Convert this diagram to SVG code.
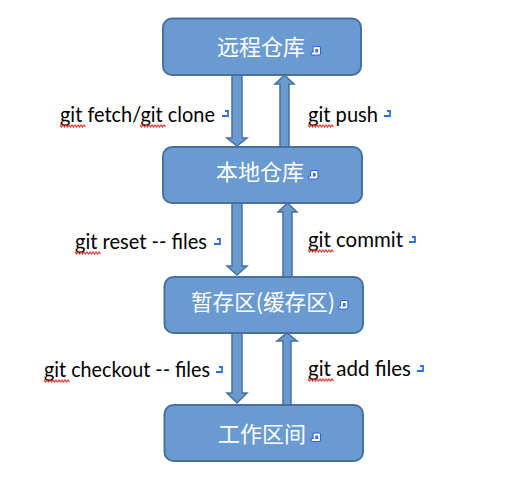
<svg xmlns="http://www.w3.org/2000/svg" width="508" height="478" viewBox="0 0 508 478">
<style>
.box{fill:#6a9bd0;stroke:#47709e;stroke-width:2}
.arr{fill:#6a9bd0;stroke:#47709e;stroke-width:1.5;stroke-linejoin:miter}
.nt{font-family:"Noto Sans CJK SC","Noto Sans",sans-serif;font-size:22px;fill:#ffffff}
.lb{font-family:Lato,"Liberation Sans",sans-serif;font-size:21px;fill:#000000}
.sq{fill:none;stroke:#e0342c;stroke-width:1.2}
.pm{fill:none;stroke:#2f6ee0;stroke-width:1.8}
.bmo{fill:none;stroke:#2f62d8;stroke-width:4;stroke-linejoin:round;stroke-linecap:round}
.bmi{fill:none;stroke:#ffffff;stroke-width:1.8;stroke-linejoin:round;stroke-linecap:round}
</style>
<defs>
<path id="sqg" d="M0,0 l1.5,2 l1.5,-2 l1.5,2 l1.5,-2 l1.5,2 l1.5,-2 l1.5,2 l1.5,-2 l1.5,2 l1.5,-2 l1.5,2 l1.5,-2 l1.5,2 l1.5,-2 l1.5,2 l1.5,-2 l1.5,2"/>
<path id="pmk" d="M3,0 H6 V5 H0"/>
<g id="bmk"><path class="bmo" d="M1.5,7 H8 V1.5 H3.5 V5"/><path class="bmi" d="M1.5,7 H8 V1.5 H3.5 V5"/></g>
</defs>
<rect width="508" height="478" fill="#ffffff"/>
<g id="connectors">
<polygon class="arr" points="232,74 242,74 242,138 247,138 237,146 227,138 232,138"/>
<polygon class="arr" points="280,148 289,148 289,84 294,84 284.5,75 275,84 280,84"/>
<polygon class="arr" points="232,202 242,202 242,266 247,266 237,275 227,266 232,266"/>
<polygon class="arr" points="283,278 292,278 292,212 297,212 287.5,203 278,212 283,212"/>
<polygon class="arr" points="232,332 242,332 242,393 247,393 237,403 227,393 232,393"/>
<polygon class="arr" points="283,406 291,406 291,341 297,341 287,333 277,341 283,341"/>
</g>
<g id="labels">
<text class="lb" x="60" y="122" textLength="155" lengthAdjust="spacingAndGlyphs">git fetch/git clone</text>
<use href="#sqg" class="sq" x="60" y="125"/><use href="#sqg" class="sq" x="140" y="125"/>
<use href="#pmk" x="222" y="111" class="pm"/>
<text class="lb" x="308" y="122" textLength="70" lengthAdjust="spacingAndGlyphs">git push</text>
<use href="#sqg" class="sq" x="308" y="125"/>
<use href="#pmk" x="384" y="111" class="pm"/>
<text class="lb" x="75" y="249" textLength="132" lengthAdjust="spacingAndGlyphs">git reset -- files</text>
<use href="#sqg" class="sq" x="75" y="252"/>
<use href="#pmk" x="214" y="239" class="pm"/>
<text class="lb" x="308" y="247" textLength="95" lengthAdjust="spacingAndGlyphs">git commit</text>
<use href="#sqg" class="sq" x="308" y="250"/>
<use href="#pmk" x="409" y="237" class="pm"/>
<text class="lb" x="44" y="377" textLength="166" lengthAdjust="spacingAndGlyphs">git checkout -- files</text>
<use href="#sqg" class="sq" x="44" y="380"/>
<use href="#pmk" x="216" y="367" class="pm"/>
<text class="lb" x="308" y="376" textLength="103" lengthAdjust="spacingAndGlyphs">git add files</text>
<use href="#sqg" class="sq" x="308" y="379"/>
<use href="#pmk" x="417" y="366" class="pm"/>
</g>
<g id="remote">
<rect class="box" x="163" y="18.5" width="198" height="56.5" rx="9"/>
<text class="nt" x="217" y="55">远程仓库</text>
<use href="#bmk" x="311" y="46.5"/>
</g>
<g id="local">
<rect class="box" x="163" y="147" width="199" height="56" rx="9"/>
<text class="nt" x="216" y="180">本地仓库</text>
<use href="#bmk" x="308.5" y="170.5"/>
</g>
<g id="stage">
<rect class="box" x="164.5" y="277" width="198.5" height="56" rx="9"/>
<text class="nt" x="191" y="310" textLength="144" lengthAdjust="spacingAndGlyphs">暂存区(缓存区)</text>
<use href="#bmk" x="338.5" y="300.5"/>
</g>
<g id="work">
<rect class="box" x="164.5" y="405" width="198.5" height="56" rx="9"/>
<text class="nt" x="218" y="442">工作区间</text>
<use href="#bmk" x="311" y="433"/>
</g>
</svg>
